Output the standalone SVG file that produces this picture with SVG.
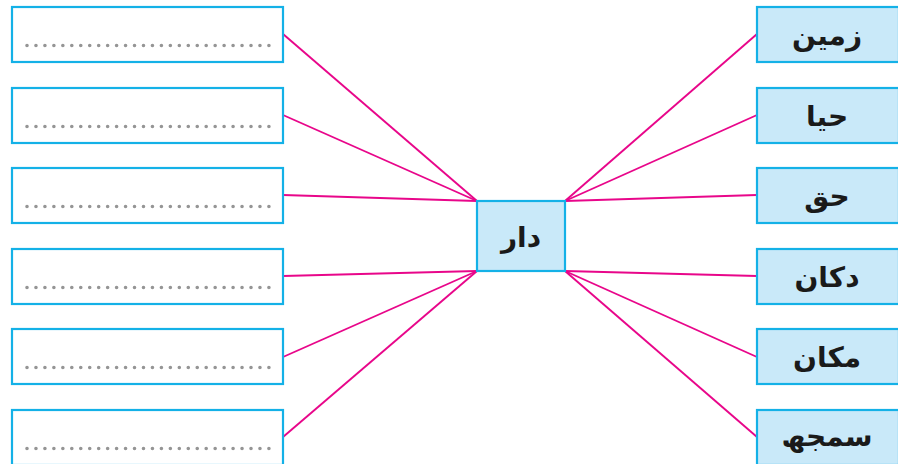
<svg xmlns="http://www.w3.org/2000/svg" width="898" height="464" viewBox="0 0 898 464">
<defs>
<style>
.lb{fill:#ffffff;stroke:#14b1e7;stroke-width:2.2}
.rb{fill:#c9e9f9;stroke:#14b1e7;stroke-width:2.2}
.dots{stroke:#959595;stroke-width:3.6;stroke-linecap:round;stroke-dasharray:0 8.96;fill:none}
.ln{stroke:#e8068a;stroke-width:1.9;fill:none}
.t{font-family:"DejaVu Sans",sans-serif;font-size:28px;font-weight:bold;fill:#1a1a1a;text-anchor:middle}
</style>
</defs>
<g id="connectors">
<line class="ln" x1="283" y1="34" x2="477" y2="201"/>
<line class="ln" x1="283" y1="115" x2="477" y2="201"/>
<line class="ln" x1="283" y1="195" x2="477" y2="201"/>
<line class="ln" x1="283" y1="276" x2="477" y2="271"/>
<line class="ln" x1="283" y1="357" x2="477" y2="271"/>
<line class="ln" x1="283" y1="437" x2="477" y2="271"/>
<line class="ln" x1="757" y1="34" x2="565" y2="201"/>
<line class="ln" x1="757" y1="115" x2="565" y2="201"/>
<line class="ln" x1="757" y1="195" x2="565" y2="201"/>
<line class="ln" x1="757" y1="276" x2="565" y2="271"/>
<line class="ln" x1="757" y1="357" x2="565" y2="271"/>
<line class="ln" x1="757" y1="437" x2="565" y2="271"/>
</g>
<g id="left1"><rect class="lb" x="12" y="7" width="271" height="55"/><line class="dots" x1="27" y1="45.5" x2="270" y2="45.5"/></g>
<g id="left2"><rect class="lb" x="12" y="88" width="271" height="55"/><line class="dots" x1="27" y1="126.5" x2="270" y2="126.5"/></g>
<g id="left3"><rect class="lb" x="12" y="168" width="271" height="55"/><line class="dots" x1="27" y1="206.5" x2="270" y2="206.5"/></g>
<g id="left4"><rect class="lb" x="12" y="249" width="271" height="55"/><line class="dots" x1="27" y1="287.5" x2="270" y2="287.5"/></g>
<g id="left5"><rect class="lb" x="12" y="329" width="271" height="55"/><line class="dots" x1="27" y1="367.5" x2="270" y2="367.5"/></g>
<g id="left6"><rect class="lb" x="12" y="410" width="271" height="55"/><line class="dots" x1="27" y1="448.5" x2="270" y2="448.5"/></g>
<g id="center"><rect class="rb" x="477" y="201" width="88" height="70"/><text class="t" x="521" y="247" direction="rtl">دار</text></g>
<g id="right1"><rect class="rb" x="757" y="7" width="142" height="55"/><text class="t" x="827" y="45" direction="rtl">زمین</text></g>
<g id="right2"><rect class="rb" x="757" y="88" width="142" height="55"/><text class="t" x="827" y="126" direction="rtl">حیا</text></g>
<g id="right3"><rect class="rb" x="757" y="168" width="142" height="55"/><text class="t" x="827" y="206" direction="rtl">حق</text></g>
<g id="right4"><rect class="rb" x="757" y="249" width="142" height="55"/><text class="t" x="827" y="287" direction="rtl">دکان</text></g>
<g id="right5"><rect class="rb" x="757" y="329" width="142" height="55"/><text class="t" x="827" y="367" direction="rtl">مکان</text></g>
<g id="right6"><rect class="rb" x="757" y="410" width="142" height="55"/><text class="t" x="827" y="446" direction="rtl">سمجھ</text></g>
</svg>
